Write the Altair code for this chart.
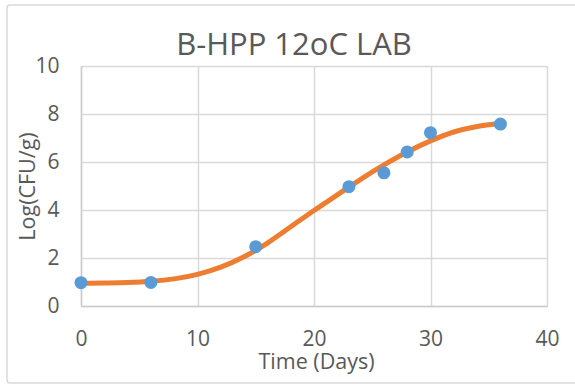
import altair as alt
import pandas as pd

# Observed LAB counts
obs_days = [0, 6, 15, 23, 26, 28, 30, 36]
obs_log = [0.97, 0.98, 2.47, 4.97, 5.55, 6.42, 7.22, 7.58]

# Fitted growth curve
fit_days = [0, 2, 4, 6, 8, 10, 12, 14, 16, 18, 20, 22, 24, 26, 28, 30, 32, 34, 36]
fit_log = [0.95, 0.96, 0.98, 1.03, 1.13, 1.32, 1.62, 2.05, 2.62, 3.3, 3.98,
           4.63, 5.28, 5.88, 6.42, 6.88, 7.25, 7.48, 7.6]

obs = pd.DataFrame({"day": obs_days, "log": obs_log})
fit = pd.DataFrame({"day": fit_days, "log": fit_log})

FONT = "Open Sans"
GREY = "#595959"
GRID = "#d9d9d9"

x_enc = alt.X(
    "day:Q",
    scale=alt.Scale(domain=[0, 40], nice=False),
    axis=alt.Axis(
        values=[0, 10, 20, 30, 40],
        title="Time (Days)",
        titleX=235, titleY=62, titleAlign="center", titleBaseline="alphabetic",
        titleFontSize=21.5, titleFontWeight="normal", titleColor=GREY, titleFont=FONT,
        labelFontSize=21, labelColor=GREY, labelFont=FONT, labelPadding=22,
        labelFlush=False,
        ticks=False, domainColor="#cccccc", domainWidth=1.5,
        gridColor=GRID, gridWidth=1.5,
    ),
)
y_enc = alt.Y(
    "log:Q",
    scale=alt.Scale(domain=[0, 10], nice=False),
    axis=alt.Axis(
        values=[0, 2, 4, 6, 8, 10],
        title="Log(CFU/g)",
        titleX=-53, titleY=120, titleAngle=-90, titleAlign="center", titleBaseline="middle",
        titleFontSize=21.5, titleFontWeight="normal", titleColor=GREY, titleFont=FONT,
        labelFontSize=21, labelColor=GREY, labelFont=FONT, labelPadding=22,
        labelFlush=False,
        ticks=False, domainColor="#cccccc", domainWidth=1.5,
        gridColor=GRID, gridWidth=1.5,
    ),
)

# Outer chart frame (outline only)
frame = alt.Chart(pd.DataFrame({"k": [0]})).mark_rect(
    fillOpacity=0, stroke=GRID, strokeWidth=1.5, cornerRadius=3, clip=False
).encode(
    x=alt.value(-74), x2=alt.value(500), y=alt.value(-61), y2=alt.value(317)
)

curve = alt.Chart(fit).mark_line(
    color="#ED7D31", strokeWidth=5, interpolate="monotone", strokeCap="round"
).encode(x=x_enc, y=y_enc)

points = alt.Chart(obs).mark_circle(
    color="#5B9BD5", size=170, opacity=1
).encode(x="day:Q", y="log:Q")

# The title sits above the group bounds (which include the outer frame),
# so dy brings its baseline back down to just above the plot area.
chart = alt.layer(frame, curve, points).properties(
    width=466,
    height=240,
    autosize=alt.AutoSizeParams(type="none"),
    padding={"left": 81, "top": 66, "right": 28, "bottom": 79},
    title=alt.TitleParams(
        "B-HPP 12oC LAB", font=FONT, fontSize=31, fontWeight="normal",
        color=GREY, anchor="middle", dx=-20, dy=82, offset=0, baseline="alphabetic",
    ),
).configure_view(stroke=None).configure(background="white")

chart.save("out.html", embed_options={"renderer": "svg", "actions": False})
